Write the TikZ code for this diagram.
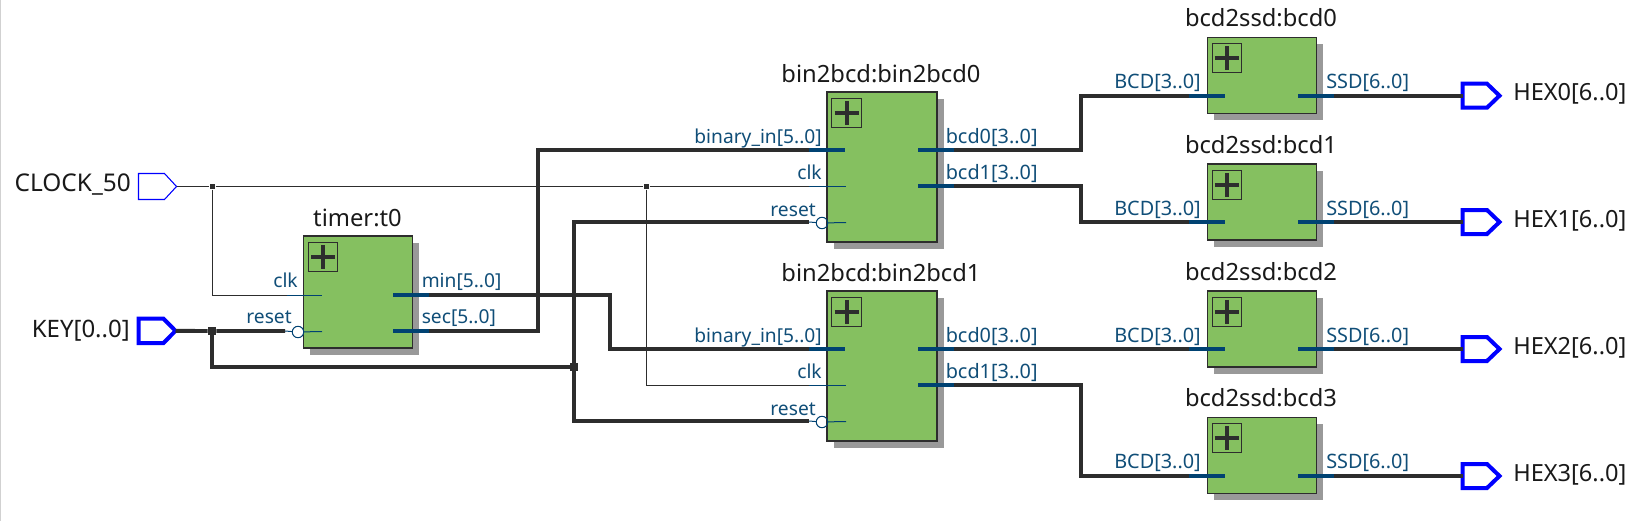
\documentclass[tikz,border=0pt]{standalone}
\usepackage{fontspec}
\setmainfont{Noto Sans}
\definecolor{wirec}{HTML}{2D2D2D}
\definecolor{portc}{HTML}{004272}
\definecolor{labelc}{HTML}{104E78}
\definecolor{pinc}{HTML}{0000FF}
\definecolor{blockc}{HTML}{85C060}
\definecolor{shadowc}{HTML}{999999}
\tikzset{
  blockbox/.style={draw=wirec,line width=0.9pt,fill=blockc,inner sep=0pt,rectangle},
  plusbox/.style={draw=wirec,line width=0.75pt,inner sep=0pt,rectangle,minimum width=22pt,minimum height=22pt},
  bus/.style={draw=wirec,line width=2.9pt,line join=miter},
  thinwire/.style={draw=wirec,line width=0.75pt},
  busstub/.style={draw=portc,line width=2.9pt},
  thinstub/.style={draw=portc,line width=0.75pt},
  titletext/.style={inner sep=0pt,font=\fontsize{17.8pt}{20pt}\selectfont,text=black!90,anchor=base},
  pintext/.style={inner sep=0pt,font=\fontsize{18pt}{20pt}\selectfont,text=black!90},
  clocktext/.style={inner sep=0pt,font=\fontsize{18.3pt}{20pt}\selectfont,text=black!90},
  hextext/.style={inner sep=0pt,font=\fontsize{17.7pt}{20pt}\selectfont,text=black!90},
  porttext/.style={inner sep=0pt,font=\fontsize{14.4pt}{17pt}\selectfont,text=labelc},
  widetext/.style={inner sep=0pt,font=\fontsize{14.9pt}{17pt}\selectfont,text=labelc},
  thinpin/.style={draw=pinc,line width=0.8pt,line join=miter},
  buspin/.style={draw=pinc,line width=3pt,line join=miter},
  dotthin/.style={fill=wirec,inner sep=0pt,minimum size=4.2pt,rectangle},
  dotbus/.style={fill=wirec,inner sep=0pt,minimum size=6.2pt,rectangle},
  bubble/.style={draw=portc,line width=0.75pt,circle,inner sep=0pt,minimum size=8.6pt},
}
% name, left, top, right, bottom, title, title centre x, title baseline y
\newcommand{\myblock}[8]{%
  \fill[shadowc] (#2+6.5,#3+6.5) rectangle (#4+6.5,#5+6.5);
  \path let \n1={(#4-#2)*0.75}, \n2={(#5-#3)*0.75} in
    node[blockbox,minimum width=\n1 pt,minimum height=\n2 pt] (#1) at ({(#2+#4)/2},{(#3+#5)/2}) {};
  \node[plusbox] (#1-plus) at (#2+19.6,#3+20.8) {};
  \draw[wirec,line width=3pt] ($(#1-plus.center)+(-12,0)$) -- ($(#1-plus.center)+(12,0)$);
  \draw[wirec,line width=3pt] ($(#1-plus.center)+(0,-12)$) -- ($(#1-plus.center)+(0,12)$);
  \node[titletext] (#1-title) at (#7,#8) {#6};
}
% name, x1, x2, y, style
\newcommand{\mystub}[5]{%
  \coordinate (#1) at (#2,#4);
  \coordinate (#1-end) at (#3,#4);
  \draw[#5] (#1) -- (#1-end);
}
% name, left, top, bottom, style, shoulder offset, tip offset
\newcommand{\mypin}[7]{%
  \coordinate (#1) at (#2+#7,{(#3+#4)/2});
  \coordinate (#1-back) at (#2,{(#3+#4)/2});
  \draw[#5] (#2,#3) -- (#2+#6,#3) -- (#1) -- (#2+#6,#4) -- (#2,#4) -- cycle;
}
\usetikzlibrary{calc}
\begin{document}
\begin{tikzpicture}[x=0.75pt,y=-0.75pt]
\useasboundingbox (0,0) rectangle (1639,521);
\fill[white] (0,0) rectangle (1639,521);
\fill[black!18] (0,0) rectangle (1,521);

% pins
\mypin{clock}{138.5}{173.5}{199.5}{thinpin}{26}{38}
\mypin{key}{138.5}{318.7}{343}{buspin}{25}{37}
\mypin{hex0}{1462.5}{83.7}{107.7}{buspin}{24.5}{37}
\mypin{hex1}{1462.5}{210}{234}{buspin}{24.5}{37}
\mypin{hex2}{1462.5}{337}{361}{buspin}{24.5}{37}
\mypin{hex3}{1462.5}{464}{488}{buspin}{24.5}{37}
\node[clocktext,anchor=base east] (clockname) at (131,191) {CLOCK\_50};
\node[pintext,anchor=base east] (keyname) at (130,337) {KEY[0..0]};
\node[hextext,anchor=base west] (hex0name) at (1513,100.7) {HEX0[6..0]};
\node[hextext,anchor=base west] (hex1name) at (1513,227) {HEX1[6..0]};
\node[hextext,anchor=base west] (hex2name) at (1513,354) {HEX2[6..0]};
\node[hextext,anchor=base west] (hex3name) at (1513,481) {HEX3[6..0]};

% blocks
\myblock{t0}{303.5}{236}{412.5}{348}{timer:t0}{357.5}{226}
\myblock{bb0}{827}{92}{937}{242}{bin2bcd:bin2bcd0}{881}{82}
\myblock{bb1}{827}{291}{937}{441}{bin2bcd:bin2bcd1}{881}{281}
\myblock{sd0}{1207.3}{37.3}{1316.7}{113.3}{bcd2ssd:bcd0}{1261}{26.7}
\myblock{sd1}{1207.3}{164}{1316.7}{240}{bcd2ssd:bcd1}{1261}{153}
\myblock{sd2}{1207.3}{291}{1316.7}{367}{bcd2ssd:bcd2}{1261}{280}
\myblock{sd3}{1207.3}{417.3}{1316.7}{493.3}{bcd2ssd:bcd3}{1261}{406.7}

% junctions
\node[dotthin] (jclk) at (212.5,186.5) {};
\node[dotthin] (jclk2) at (646.5,186.5) {};
\node[dotbus] (jkey) at (212,331) {};
\node[dotbus] (jrst) at (574,367) {};

% bubbles
\node[bubble] (t0-bub) at (298,332) {};
\node[bubble] (bb0-bub) at (822,223) {};
\node[bubble] (bb1-bub) at (822,422) {};

% single-bit wires
\mystub{t0-clk}{287}{322}{295.5}{thinstub}
\mystub{bb0-clk}{809}{846}{186.5}{thinstub}
\mystub{bb1-clk}{809}{846}{385.5}{thinstub}
\coordinate (t0-rst) at (285,331);
\coordinate (bb0-rst) at (809,222);
\coordinate (bb1-rst) at (809,421);
\draw[thinstub] (t0-rst) -- (t0-bub);
\draw[thinstub] (t0-bub) -- (322,331.5);
\draw[thinstub] (bb0-rst) -- (bb0-bub);
\draw[thinstub] (bb0-bub) -- (846,222.5);
\draw[thinstub] (bb1-rst) -- (bb1-bub);
\draw[thinstub] (bb1-bub) -- (846,421.5);
\coordinate (t0-bendmin) at (610,295);
\coordinate (t0-bendsec) at (538,331);
\coordinate (bb0-bendb0) at (1081,150);
\coordinate (bb0-bendb1) at (1081,186);
\coordinate (bb1-bendb1) at (1081,385);

\draw[thinwire] (clock) -- (jclk) -- (jclk2) -- (bb0-clk);
\draw[thinwire] (jclk) |- (t0-clk);
\draw[thinwire] (jclk2) |- (bb1-clk);
\draw[bus] (key) -- (jkey) -- (t0-rst);
\draw[bus] (jkey) |- (jrst);
\draw[bus] (jrst) |- (bb0-rst);
\draw[bus] (jrst) |- (bb1-rst);

% buses and their port stubs
\coordinate (t0-min) at (429,295);
\coordinate (t0-sec) at (429,331);
\coordinate (bb0-bin) at (809,150);
\coordinate (bb1-bin) at (809,349);
\coordinate (bb0-b0) at (954,150);
\coordinate (bb0-b1) at (954,186);
\coordinate (bb1-b0) at (954,349);
\coordinate (bb1-b1) at (954,385);
\coordinate (sd0-in) at (1189,95.7);
\coordinate (sd1-in) at (1189,222);
\coordinate (sd2-in) at (1189,349);
\coordinate (sd3-in) at (1189,476);
\coordinate (sd0-out) at (1334,95.7);
\coordinate (sd1-out) at (1334,222);
\coordinate (sd2-out) at (1334,349);
\coordinate (sd3-out) at (1334,476);

\draw[bus] (t0-min) -- (t0-bendmin) |- (bb1-bin);
\draw[bus] (t0-sec) -- (t0-bendsec) |- (bb0-bin);
\draw[bus] (bb0-b0) -- (bb0-bendb0) |- (sd0-in);
\draw[bus] (bb0-b1) -- (bb0-bendb1) |- (sd1-in);
\draw[bus] (bb1-b0) -- (sd2-in);
\draw[bus] (bb1-b1) -- (bb1-bendb1) |- (sd3-in);
\draw[bus] (sd0-out) -- (hex0-back);
\draw[bus] (sd1-out) -- (hex1-back);
\draw[bus] (sd2-out) -- (hex2-back);
\draw[bus] (sd3-out) -- (hex3-back);

\draw[busstub] (t0-min) -- (393,295);
\draw[busstub] (t0-sec) -- (393,331);
\draw[busstub] (bb0-bin) -- (845,150);
\draw[busstub] (bb1-bin) -- (845,349);
\draw[busstub] (bb0-b0) -- (918,150);
\draw[busstub] (bb0-b1) -- (918,186);
\draw[busstub] (bb1-b0) -- (918,349);
\draw[busstub] (bb1-b1) -- (918,385);
\draw[busstub] (sd0-in) -- (1225,95.7);
\draw[busstub] (sd1-in) -- (1225,222);
\draw[busstub] (sd2-in) -- (1225,349);
\draw[busstub] (sd3-in) -- (1225,476);
\draw[busstub] (sd0-out) -- (1298,95.7);
\draw[busstub] (sd1-out) -- (1298,222);
\draw[busstub] (sd2-out) -- (1298,349);
\draw[busstub] (sd3-out) -- (1298,476);

% port labels
\node[porttext,anchor=base east] (l1) at (298,287) {clk};
\node[porttext,anchor=base east] (l2) at (292,323) {reset};
\node[porttext,anchor=base west] (l3) at (421.5,287) {min[5..0]};
\node[porttext,anchor=base west] (l4) at (421.5,323) {sec[5..0]};
\foreach \i/\d in {bb0/0,bb1/199}{
  \node[porttext,anchor=base east] (\i-l1) at (822,143+\d) {binary\_in[5..0]};
  \node[porttext,anchor=base east] (\i-l2) at (822,179+\d) {clk};
  \node[porttext,anchor=base east] (\i-l3) at (816,216+\d) {reset};
  \node[widetext,anchor=base west] (\i-l4) at (945.5,143+\d) {bcd0[3..0]};
  \node[widetext,anchor=base west] (\i-l5) at (945.5,179+\d) {bcd1[3..0]};
}
\foreach \i/\y in {sd0/88.7,sd1/215,sd2/342,sd3/468.3}{
  \node[widetext,anchor=base east] (\i-l1) at (1201,\y) {BCD[3..0]};
  \node[widetext,anchor=base west] (\i-l2) at (1326,\y) {SSD[6..0]};
}
\end{tikzpicture}
\end{document}
